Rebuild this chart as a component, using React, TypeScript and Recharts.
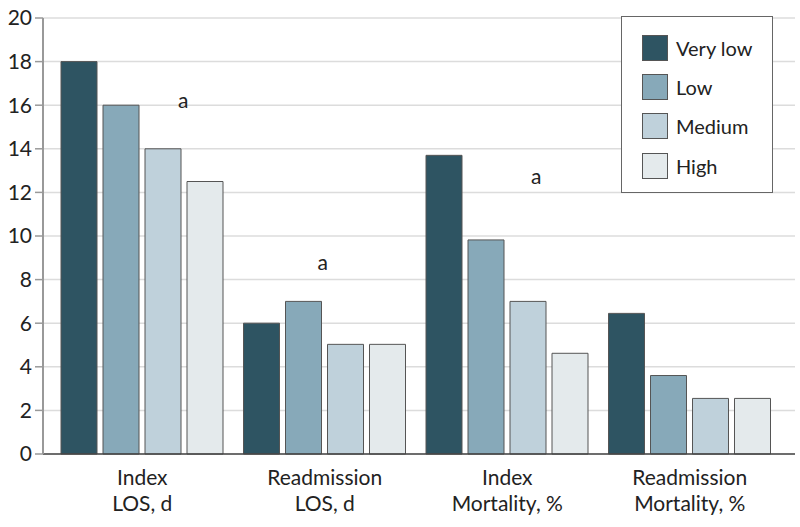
import { Bar, BarChart, CartesianGrid, ReferenceDot, XAxis, YAxis } from "recharts";

const categories = ["Index\nLOS, d", "Readmission\nLOS, d", "Index\nMortality, %", "Readmission\nMortality, %"];
const veryLow = [18, 6, 13.7, 6.45];
const low = [16, 7, 9.82, 3.6];
const medium = [14, 5.03, 7, 2.55];
const high = [12.5, 5.03, 4.62, 2.55];
const yTicks = [0, 2, 4, 6, 8, 10, 12, 14, 16, 18, 20];

// significance markers: category index, height, shift from band centre
const markCats = [0, 1, 2];
const markY = [16.2, 8.75, 12.7];
const markDx = [41, -2, 29];

const series = [
  { key: "veryLow", name: "Very low", color: "#2e5462" },
  { key: "low", name: "Low", color: "#87a9b9" },
  { key: "medium", name: "Medium", color: "#bfd1db" },
  { key: "high", name: "High", color: "#e4eaec" },
];

const data = categories.map((c, i) => ({
  cat: c,
  veryLow: veryLow[i],
  low: low[i],
  medium: medium[i],
  high: high[i],
}));

const FONT = "Lato, 'Noto Sans', sans-serif";

function CatTick({ x, y, payload }: any) {
  const lines = String(payload.value).split("\n");
  return (
    <text x={x} y={y} textAnchor="middle" fill="#222" fontSize={21} fontFamily={FONT}>
      {lines.map((l, i) => (
        <tspan key={i} x={x} dy={i === 0 ? 23 : 26}>
          {l}
        </tspan>
      ))}
    </text>
  );
}

function LegendBox() {
  return (
    <div
      style={{
        position: "absolute",
        left: 621,
        top: 16,
        width: 150,
        height: 159,
        border: "1px solid #666",
        background: "#fff",
        paddingTop: 11,
        paddingBottom: 5,
        fontFamily: FONT,
      }}
    >
      {series.map((s) => (
        <div key={s.key} style={{ display: "flex", alignItems: "center", height: 39.3, marginLeft: 20 }}>
          <div style={{ width: 24, height: 24, background: s.color, border: "1px solid #555" }} />
          <span style={{ marginLeft: 8, fontSize: 20, color: "#222" }}>{s.name}</span>
        </div>
      ))}
    </div>
  );
}

export default function App() {
  return (
    <div style={{ position: "absolute", left: 0, top: 0, width: 800, height: 527, background: "#fff" }}>
      <BarChart
        width={800}
        height={527}
        data={data}
        margin={{ top: 18, right: 5, bottom: 0, left: 0 }}
        barSize={36}
        barGap={6}
      >
        <CartesianGrid vertical={false} stroke="#dcdcdc" strokeWidth={1.5} />
        <XAxis
          dataKey="cat"
          tick={<CatTick />}
          tickLine={false}
          axisLine={{ stroke: "#444", strokeWidth: 1.5 }}
          padding={{ left: 8, right: 14 }}
          interval={0}
          height={73}
        />
        <YAxis
          domain={[0, 20]}
          ticks={yTicks}
          width={43}
          tickSize={8}
          tickMargin={3}
          axisLine={{ stroke: "#999", strokeWidth: 2 }}
          tickLine={{ stroke: "#999", strokeWidth: 1.5 }}
          tick={{ fill: "#222", fontSize: 21, fontFamily: FONT }}
        />
        {series.map((s) => (
          <Bar
            key={s.key}
            dataKey={s.key}
            name={s.name}
            fill={s.color}
            stroke="#555"
            strokeWidth={1}
            isAnimationActive={false}
          />
        ))}
        {markCats.map((ci, i) => (
          <ReferenceDot
            key={i}
            x={categories[ci]}
            y={markY[i]}
            r={0}
            ifOverflow="visible"
            shape={(p: any) => (
              <text
                x={p.cx + markDx[i]}
                y={p.cy}
                dy={7}
                textAnchor="middle"
                fill="#222"
                fontSize={21}
                fontFamily={FONT}
              >
                a
              </text>
            )}
          />
        ))}
      </BarChart>
      <LegendBox />
    </div>
  );
}
